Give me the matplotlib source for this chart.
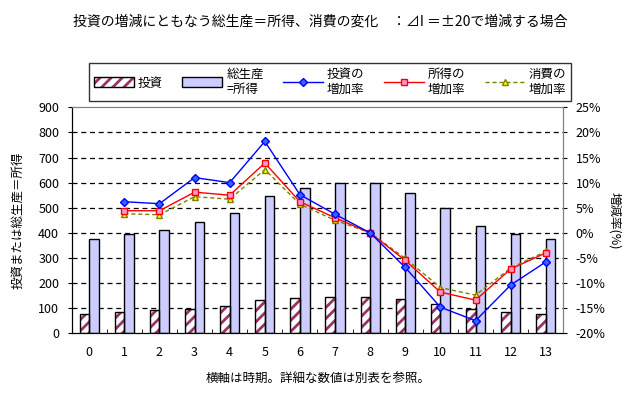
import numpy as np
import matplotlib
matplotlib.use('Agg')
import matplotlib.pyplot as plt
from matplotlib.patches import Patch
from matplotlib.legend_handler import HandlerTuple
from matplotlib.ticker import FuncFormatter, MultipleLocator

plt.rcParams['font.family'] = ['Noto Sans CJK JP', 'DejaVu Sans']
plt.rcParams['hatch.linewidth'] = 2.0

periods = list(range(14))
invest = [78, 84, 92, 98, 110, 131, 139, 143, 143, 135, 115, 96, 84, 78]
gdp = [377, 397, 413, 445, 481, 545, 580, 598, 598, 560, 497, 429, 397, 377]
inv_rate = [np.nan, 6.2, 5.8, 11.0, 10.0, 18.2, 7.6, 3.7, 0.0, -6.9, -14.8, -17.5, -10.4, -5.8]
inc_rate = [np.nan, 4.4, 4.4, 8.1, 7.5, 13.9, 6.2, 3.0, 0.0, -5.5, -11.8, -13.4, -7.2, -4.0]
con_rate = [np.nan, 3.8, 3.6, 7.2, 6.7, 12.6, 5.7, 2.5, 0.0, -5.1, -10.9, -12.4, -7.0, -3.7]

labels = ['投資', '総生産\n=所得', '投資の\n増加率', '所得の\n増加率', '消費の\n増加率']

fig = plt.figure(figsize=(6.41, 3.99), dpi=100)
ax = fig.add_axes([0.1118, 0.1647, 0.767, 0.5664])
x = np.arange(len(periods))
w = 0.275

# bars: hatched investment + outline, then total production
ax.bar(x - w / 2, invest, w, color='white', edgecolor='#993366', hatch='///', linewidth=0, zorder=2)
ax.bar(x - w / 2, invest, w, fill=False, edgecolor='black', linewidth=1, zorder=3)
ax.bar(x + w / 2, gdp, w, color='#CCCCFF', edgecolor='black', linewidth=1, zorder=2)

ax.set_xlim(-0.5, len(periods) - 0.5)
ax.set_ylim(0, 900)
ax.yaxis.set_major_locator(MultipleLocator(100))
for v in range(100, 900, 100):
    ax.axhline(v, color='black', lw=0.9, ls=(0, (4, 3)), zorder=1)
ax.set_xticks(x)
ax.set_xticklabels([str(p) for p in periods])
ax.set_xticks(np.arange(0.5, len(periods) - 0.5), minor=True)
ax.tick_params(axis='x', which='major', length=0, pad=9, labelsize=9)
ax.tick_params(axis='x', which='minor', direction='in', length=3, color='black')
ax.tick_params(axis='y', length=3, labelsize=9, pad=6)
ax.set_ylabel('投資または総生産＝所得', fontsize=9, labelpad=10)
ax.spines['left'].set_color('black')
ax.spines['bottom'].set_color('black')
ax.spines['top'].set_color('#808080')
ax.spines['right'].set_color('#808080')

ax2 = ax.twinx()
ax2.set_ylim(-20, 25)
ax2.yaxis.set_major_locator(MultipleLocator(5))
ax2.yaxis.set_major_formatter(FuncFormatter(lambda v, p: '%d%%' % v))
ax2.tick_params(axis='y', length=3, labelsize=9, pad=6)
ax2.spines['right'].set_color('#808080')
ax2.spines['top'].set_color('#808080')
ax2.set_ylabel('増減率(%)', fontsize=9, rotation=270, labelpad=11)

l1, = ax2.plot(x, inv_rate, color='#0000FF', lw=1, marker='D', ms=4.2,
               mfc='#3366FF', mec='#0000FF', zorder=5)
l2, = ax2.plot(x, inc_rate, color='#FF0000', lw=1, marker='s', ms=4.8,
               mfc='#FF99CC', mec='#FF0000', zorder=4)
l3, = ax2.plot(x, con_rate, color='#808000', lw=1, ls=(0, (3, 2)), marker='^', ms=5,
               mfc='#FFFF00', mec='#808000', zorder=3)

h_inv = (Patch(facecolor='white', edgecolor='#993366', hatch='///', linewidth=0),
         Patch(fill=False, edgecolor='black', linewidth=1))
h_gdp = Patch(facecolor='#CCCCFF', edgecolor='black', linewidth=1)
leg = fig.legend([h_inv, h_gdp, l1, l2, l3], labels, ncol=5, mode='expand',
                 loc='lower left', bbox_to_anchor=(0.139, 0.748, 0.752, 0.106),
                 fontsize=9, frameon=True, fancybox=False, edgecolor='black',
                 handlelength=3.2, handleheight=0.8, borderaxespad=0, labelspacing=0,
                 handletextpad=0.3, columnspacing=1.0,
                 handler_map={tuple: HandlerTuple(ndivide=1)})
leg.get_frame().set_linewidth(1)

fig.text(0.5, 0.945, '投資の増減にともなう総生産＝所得、消費の変化　：⊿I ＝±20で増減する場合',
         ha='center', va='center', fontsize=10)
fig.text(0.496, 0.048, '横軸は時期。詳細な数値は別表を参照。', ha='center', va='center', fontsize=9)

fig.savefig('out.png', dpi=100)
